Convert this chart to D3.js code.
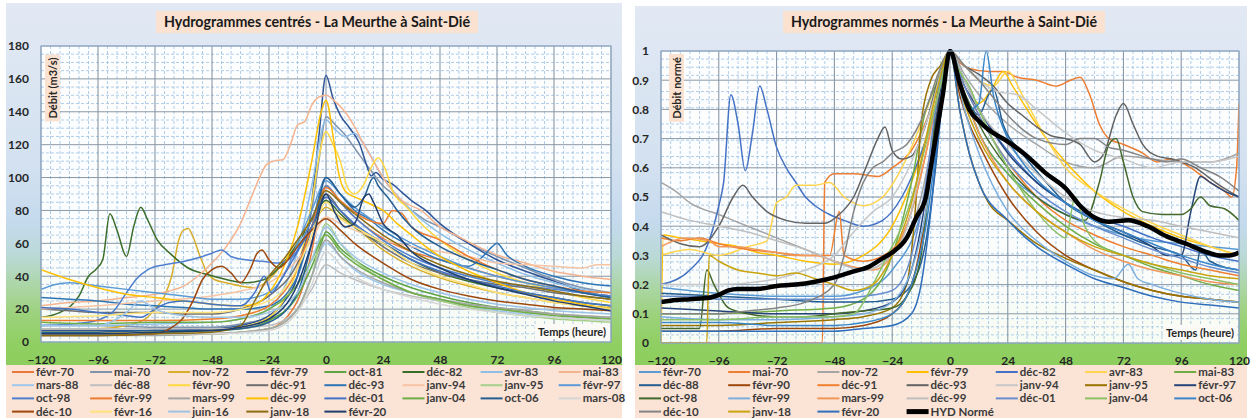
<!DOCTYPE html>
<html><head><meta charset="utf-8">
<script src="https://cdn.jsdelivr.net/npm/d3@7"></script>
<style>body{margin:0;background:#fff}svg{display:block}text{font-family:Lato,"Open Sans",sans-serif}</style>
</head><body>
<svg id="c" width="1254" height="418"></svg>
<script>
// ---------- tick labels ----------
const hourTicks = [-120,-96,-72,-48,-24,0,24,48,72,96,120];
const leftYTicks = [0,20,40,60,80,100,120,140,160,180];
const rightYTicks = [0,0.1,0.2,0.3,0.4,0.5,0.6,0.7,0.8,0.9,1];
const rightYLabels = ["0","0.1","0.2","0.3","0.4","0.5","0.6","0.7","0.8","0.9","1"];

// ---------- left panel : centred hydrographs (m3/s), [hour, value] ----------
const L_fevr70 = [[-120,5],[-96,5],[-72,5],[-48,5],[-36,6],[-24,8],[-12,25],[-6,55],[-3,78],[0,95],[6,85],[12,76],[24,63],[36,55],[48,50],[60,45],[72,40],[84,36],[96,33],[108,30],[120,28]];
const L_mai70 = [[-120,10],[-96,10],[-72,9],[-48,9],[-36,11],[-24,15],[-18,24],[-12,40],[-6,80],[-3,110],[0,137],[4,132],[8,126],[12,118],[18,106],[24,95],[30,88],[36,80],[42,74],[48,70],[60,60],[72,52],[84,45],[96,38],[108,33],[120,30]];
const L_nov72 = [[-120,8],[-96,8],[-84,10],[-76,14],[-72,20],[-68,28],[-65,40],[-62,62],[-60,68],[-58,69],[-56,64],[-53,52],[-50,42],[-47,38],[-42,36],[-36,34],[-30,33],[-24,38],[-18,48],[-12,58],[-6,70],[0,82],[6,76],[12,70],[24,56],[36,46],[48,39],[60,34],[72,30],[84,27],[96,24],[108,22],[120,21]];
const L_fevr79 = [[-120,7],[-96,7],[-72,7],[-48,8],[-36,10],[-24,16],[-18,24],[-12,40],[-6,85],[-3,125],[0,162],[3,148],[6,138],[10,130],[14,121],[17,108],[19,101],[21,103],[24,99],[28,96],[32,91],[36,86],[42,80],[48,72],[60,60],[72,50],[84,43],[96,37],[108,31],[120,27]];
const L_oct81 = [[-120,6],[-96,6],[-72,6],[-48,7],[-36,8],[-24,13],[-12,28],[-6,46],[-2,60],[0,67],[6,57],[12,50],[24,40],[36,33],[48,28],[60,24],[72,21],[84,19],[96,17],[108,15],[120,14]];
const L_dec82 = [[-120,15],[-112,18],[-104,28],[-100,40],[-97,44],[-94,50],[-91,78],[-88,68],[-84,52],[-81,70],[-78,82],[-75,74],[-71,62],[-65,53],[-58,45],[-50,41],[-42,38],[-34,36],[-26,38],[-18,48],[-12,60],[-6,74],[0,86],[6,78],[12,70],[18,64],[24,60],[36,50],[48,42],[60,37],[72,33],[84,30],[96,27],[108,24],[120,22]];
const L_avr83 = [[-120,10],[-96,10],[-72,11],[-48,12],[-36,14],[-24,20],[-18,32],[-12,55],[-6,95],[0,135],[4,129],[8,125],[12,127],[16,120],[24,100],[36,80],[48,66],[60,56],[72,48],[84,41],[96,36],[108,32],[120,30]];
const L_mai83 = [[-120,22],[-108,24],[-96,25],[-84,27],[-72,29],[-66,31],[-60,34],[-54,40],[-48,48],[-42,58],[-36,72],[-32,86],[-28,100],[-25,108],[-22,110],[-18,111],[-15,120],[-12,132],[-9,134],[-6,144],[-3,149],[0,150],[4,146],[8,140],[12,131],[16,120],[20,110],[24,100],[28,92],[32,86],[40,80],[48,70],[56,64],[64,58],[72,53],[84,48],[96,43],[108,40],[120,38]];
const L_mars88 = [[-120,5],[-96,5],[-72,5],[-48,5],[-36,6],[-24,8],[-12,20],[-6,40],[0,60],[6,52],[12,44],[24,35],[36,30],[48,26],[60,22],[72,19],[84,17],[96,15],[108,14],[120,13]];
const L_dec88 = [[-120,8],[-96,8],[-72,8],[-48,8],[-24,10],[-12,20],[-6,32],[0,47],[6,42],[12,38],[24,32],[36,28],[48,25],[60,22],[72,20],[84,18],[96,17],[108,16],[120,15]];
const L_fevr90 = [[-120,6],[-96,6],[-72,6],[-48,7],[-36,9],[-24,15],[-18,25],[-12,45],[-6,85],[-3,112],[0,128],[3,120],[6,110],[9,94],[12,90],[16,96],[19,106],[22,112],[25,105],[28,92],[34,82],[40,72],[48,62],[60,50],[72,42],[84,36],[96,31],[108,27],[120,24]];
const L_dec91 = [[-120,20],[-108,19],[-96,18],[-84,18],[-72,18],[-60,17],[-48,17],[-36,20],[-24,28],[-12,48],[-6,70],[0,90],[6,80],[12,71],[24,58],[36,48],[48,42],[60,38],[72,35],[84,33],[96,30],[108,28],[120,26]];
const L_dec93 = [[-120,27],[-108,26],[-96,25],[-84,23],[-72,22],[-60,21],[-48,20],[-36,20],[-24,22],[-12,40],[-6,70],[0,100],[6,90],[12,80],[18,75],[24,68],[36,58],[48,50],[60,46],[66,52],[70,58],[72,60],[76,53],[84,46],[96,40],[108,36],[120,34]];
const L_janv94 = [[-120,20],[-96,22],[-72,25],[-48,28],[-36,31],[-24,36],[-12,50],[-6,62],[0,76],[6,72],[12,68],[24,62],[36,58],[48,55],[60,52],[72,48],[84,47],[96,46],[108,45],[114,47],[120,47]];
const L_janv95 = [[-120,5],[-96,5],[-72,5],[-48,5],[-24,8],[-12,20],[-6,40],[0,72],[6,60],[12,50],[24,38],[36,30],[48,25],[60,21],[72,18],[84,16],[96,14],[108,13],[120,12]];
const L_fevr97 = [[-120,32],[-114,35],[-108,36],[-96,34],[-84,32],[-72,30],[-60,28],[-48,26],[-36,26],[-24,30],[-18,40],[-12,60],[-6,80],[0,98],[6,90],[12,82],[24,70],[36,60],[48,52],[60,45],[72,40],[84,36],[96,33],[108,30],[120,28]];
const L_oct98 = [[-120,10],[-100,12],[-90,18],[-84,30],[-80,38],[-75,44],[-68,47],[-60,49],[-52,52],[-48,54],[-44,56],[-40,52],[-34,50],[-26,49],[-20,48],[-14,52],[-8,68],[-4,82],[0,95],[6,85],[12,76],[24,62],[36,52],[48,45],[60,40],[72,36],[84,34],[96,32],[108,30],[120,28]];
const L_fevr99 = [[-120,13],[-96,13],[-72,13],[-48,14],[-36,16],[-24,22],[-12,45],[-6,70],[0,94],[6,86],[12,79],[18,74],[24,72],[28,80],[32,78],[36,70],[48,62],[60,52],[72,44],[84,38],[96,34],[108,31],[120,30]];
const L_mars99 = [[-120,4],[-96,4],[-72,4],[-48,5],[-24,8],[-12,20],[-6,40],[0,62],[6,52],[12,45],[24,36],[36,30],[48,26],[60,23],[72,21],[84,19],[96,17],[108,16],[120,15]];
const L_dec99 = [[-120,44],[-108,38],[-96,33],[-84,29],[-72,27],[-60,25],[-48,23],[-36,22],[-30,23],[-24,30],[-18,45],[-12,70],[-6,110],[-2,140],[0,147],[3,125],[5,105],[8,92],[14,87],[20,83],[24,80],[30,72],[36,65],[42,58],[48,52],[60,43],[72,36],[84,30],[96,26],[108,23],[120,20]];
const L_dec01 = [[-120,21],[-108,20],[-96,18],[-84,16],[-78,15],[-72,20],[-66,24],[-60,25],[-54,24],[-48,23],[-36,22],[-30,30],[-26,40],[-23,30],[-18,40],[-12,55],[-6,70],[0,88],[6,80],[12,72],[24,60],[36,50],[48,43],[60,38],[72,34],[84,30],[96,27],[108,24],[120,22]];
const L_janv04 = [[-120,12],[-96,11],[-72,12],[-48,12],[-36,14],[-24,20],[-12,35],[-6,50],[0,65],[6,55],[12,48],[24,38],[36,30],[48,26],[60,22],[72,20],[84,18],[96,16],[108,15],[120,14]];
const L_oct06 = [[-120,6],[-96,6],[-72,7],[-48,7],[-36,8],[-24,12],[-12,30],[-6,60],[0,100],[6,90],[12,82],[16,88],[20,100],[22,95],[26,88],[30,80],[36,70],[48,58],[60,50],[72,44],[84,38],[96,34],[108,30],[120,27]];
const L_mars08 = [[-120,5],[-96,5],[-72,5],[-48,5],[-24,7],[-12,18],[-6,35],[0,55],[6,47],[12,40],[24,32],[36,27],[48,23],[60,20],[72,18],[84,16],[96,15],[108,14],[120,13]];
const L_dec10 = [[-120,4],[-96,4],[-72,5],[-66,8],[-60,15],[-56,25],[-52,38],[-48,44],[-44,46],[-40,42],[-36,36],[-32,44],[-29,54],[-27,56],[-24,50],[-20,45],[-16,50],[-12,58],[-6,68],[0,75],[6,68],[12,60],[24,48],[36,38],[48,32],[60,28],[72,25],[84,23],[96,21],[108,20],[120,19]];
const L_fevr16 = [[-120,15],[-96,16],[-72,18],[-48,18],[-24,25],[-12,45],[-6,65],[0,85],[6,75],[12,70],[24,60],[36,48],[48,40],[60,35],[72,30],[84,27],[96,24],[108,22],[120,20]];
const L_juin16 = [[-120,10],[-96,10],[-88,14],[-84,18],[-78,25],[-72,20],[-60,16],[-48,15],[-36,15],[-24,18],[-12,30],[-6,50],[0,70],[6,60],[12,52],[24,42],[36,35],[48,30],[60,26],[72,23],[84,21],[96,19],[108,18],[120,17]];
const L_janv18 = [[-120,4],[-96,4],[-72,5],[-48,6],[-36,10],[-30,25],[-24,40],[-18,50],[-12,62],[-6,75],[0,92],[6,85],[12,78],[24,65],[36,55],[48,47],[60,41],[72,37],[84,34],[96,31],[108,28],[120,26]];
const L_fevr20 = [[-120,5],[-96,5],[-72,6],[-48,7],[-36,9],[-24,14],[-12,35],[-6,60],[0,90],[4,78],[8,70],[12,72],[16,88],[18,90],[20,85],[24,72],[30,65],[36,55],[48,45],[60,38],[72,33],[84,29],[96,25],[108,22],[120,19]];

const leftNames = ["févr-70","mai-70","nov-72","févr-79","oct-81","déc-82","avr-83","mai-83","mars-88","déc-88","févr-90","déc-91","déc-93","janv-94","janv-95","févr-97","oct-98","févr-99","mars-99","déc-99","déc-01","janv-04","oct-06","mars-08","déc-10","févr-16","juin-16","janv-18","févr-20"];
const leftSeries = [L_fevr70,L_mai70,L_nov72,L_fevr79,L_oct81,L_dec82,L_avr83,L_mai83,L_mars88,L_dec88,L_fevr90,L_dec91,L_dec93,L_janv94,L_janv95,L_fevr97,L_oct98,L_fevr99,L_mars99,L_dec99,L_dec01,L_janv04,L_oct06,L_mars08,L_dec10,L_fevr16,L_juin16,L_janv18,L_fevr20];
const leftColors = ["#E8793A","#7F93AE","#D9AE2A","#2F5597","#5EA344","#3B6E2A","#8EBEE6","#F4B490","#9DC8EB","#BFBFBF","#FFD93F","#6F6F6F","#2E75B6","#F7C4A4","#A6D08A","#5B9BD5","#4F7FCF","#ED7D31","#A5A5A5","#FFC000","#4472C4","#70AD47","#255E91","#D6D6D6","#9E480E","#FFE27A","#9DC3E6","#8C6D12","#1F3D6E"];

// ---------- right panel : normalised hydrographs, [hour, value] ----------
const R_fevr70 = [[-120,0.19],[-96,0.17],[-72,0.16],[-48,0.16],[-36,0.18],[-24,0.25],[-12,0.45],[-6,0.7],[0,1],[6,0.85],[12,0.72],[24,0.58],[36,0.5],[48,0.44],[60,0.4],[72,0.37],[84,0.35],[96,0.34],[108,0.33],[120,0.32]];
const R_mai70 = [[-120,0],[-53,0],[-52,0.55],[-48,0.58],[-40,0.58],[-30,0.57],[-24,0.6],[-16,0.66],[-8,0.8],[0,1],[4,0.96],[8,0.94],[16,0.93],[22,0.93],[28,0.91],[36,0.9],[44,0.88],[50,0.9],[54,0.91],[58,0.85],[62,0.75],[66,0.7],[72,0.68],[80,0.65],[86,0.62],[92,0.63],[100,0.6],[108,0.55],[114,0.52],[117,0.5],[119,0.6],[120,0.82]];
const R_nov72 = [[-120,0.55],[-114,0.52],[-108,0.48],[-96,0.44],[-84,0.4],[-72,0.36],[-60,0.32],[-48,0.28],[-36,0.25],[-24,0.3],[-12,0.5],[-6,0.75],[0,1],[6,0.92],[12,0.85],[24,0.75],[36,0.68],[48,0.62],[60,0.6],[72,0.64],[84,0.63],[96,0.62],[108,0.62],[120,0.65]];
const R_fevr79 = [[-120,0],[-119,0.37],[-112,0.36],[-104,0.35],[-96,0.34],[-88,0.33],[-80,0.31],[-72,0.3],[-60,0.28],[-48,0.27],[-36,0.3],[-24,0.4],[-16,0.55],[-10,0.7],[-5,0.85],[0,1],[6,0.9],[12,0.82],[18,0.88],[22,0.93],[26,0.88],[32,0.8],[40,0.7],[48,0.62],[60,0.52],[72,0.45],[84,0.4],[96,0.36],[108,0.33],[120,0.3]];
const R_dec82 = [[-120,0.2],[-108,0.25],[-100,0.35],[-96,0.47],[-94,0.55],[-91,0.85],[-88,0.75],[-85,0.59],[-82,0.72],[-79,0.88],[-76,0.8],[-72,0.67],[-68,0.6],[-64,0.55],[-60,0.5],[-56,0.47],[-50,0.44],[-44,0.42],[-36,0.4],[-28,0.42],[-20,0.5],[-12,0.65],[-6,0.8],[0,1],[6,0.9],[12,0.8],[20,0.7],[28,0.62],[36,0.55],[48,0.48],[60,0.43],[72,0.4],[84,0.36],[96,0.33],[108,0.3],[120,0.28]];
const R_avr83 = [[-120,0.3],[-108,0.32],[-96,0.3],[-84,0.33],[-76,0.35],[-72,0.48],[-68,0.5],[-64,0.54],[-56,0.54],[-50,0.55],[-44,0.5],[-40,0.48],[-36,0.47],[-28,0.5],[-20,0.6],[-12,0.75],[-6,0.88],[0,1],[6,0.95],[12,0.9],[18,0.88],[24,0.93],[30,0.85],[40,0.7],[48,0.6],[60,0.52],[72,0.46],[84,0.41],[96,0.37],[108,0.33],[120,0.3]];
const R_mai83 = [[-120,0.1],[-96,0.1],[-72,0.11],[-48,0.12],[-36,0.15],[-24,0.3],[-16,0.55],[-10,0.8],[-6,0.88],[-3,0.95],[0,1],[6,0.85],[12,0.72],[24,0.58],[36,0.48],[48,0.4],[60,0.34],[72,0.3],[84,0.26],[96,0.23],[108,0.2],[120,0.18]];
const R_dec88 = [[-120,0.17],[-96,0.16],[-72,0.15],[-48,0.14],[-36,0.14],[-24,0.15],[-16,0.2],[-10,0.35],[-6,0.6],[-3,0.85],[0,1],[4,0.9],[8,0.82],[12,0.78],[16,0.85],[18,0.87],[22,0.75],[30,0.65],[40,0.55],[48,0.48],[60,0.42],[72,0.37],[84,0.33],[96,0.3],[102,0.25],[104,0.32],[108,0.28],[120,0.25]];
const R_fevr90 = [[-120,0.04],[-96,0.04],[-72,0.05],[-48,0.05],[-36,0.06],[-24,0.1],[-16,0.2],[-10,0.45],[-6,0.75],[0,1],[4,0.85],[8,0.75],[12,0.68],[24,0.5],[36,0.38],[48,0.3],[60,0.25],[72,0.21],[84,0.18],[96,0.16],[108,0.15],[120,0.14]];
const R_dec91 = [[-120,0.36],[-112,0.35],[-104,0.36],[-96,0.34],[-84,0.32],[-72,0.31],[-60,0.3],[-50,0.3],[-46,0.45],[-44,0.3],[-36,0.28],[-24,0.32],[-16,0.45],[-10,0.65],[-5,0.85],[0,1],[6,0.88],[12,0.78],[24,0.62],[36,0.5],[48,0.42],[60,0.37],[72,0.33],[84,0.3],[96,0.27],[108,0.25],[120,0.23]];
const R_dec93 = [[-120,0.37],[-112,0.34],[-104,0.33],[-96,0.4],[-90,0.5],[-86,0.54],[-82,0.5],[-76,0.45],[-68,0.42],[-60,0.41],[-52,0.41],[-46,0.44],[-40,0.5],[-34,0.62],[-30,0.7],[-27,0.74],[-24,0.66],[-20,0.63],[-16,0.64],[-10,0.75],[-5,0.9],[0,1],[6,0.95],[12,0.92],[18,0.88],[24,0.82],[30,0.78],[36,0.74],[42,0.71],[48,0.7],[54,0.68],[60,0.62],[64,0.65],[69,0.78],[72,0.82],[76,0.75],[80,0.68],[86,0.64],[92,0.63],[96,0.62],[102,0.6],[107,0.57],[112,0.54],[120,0.5]];
const R_janv94 = [[-120,0.2],[-96,0.2],[-72,0.22],[-60,0.25],[-48,0.3],[-40,0.38],[-32,0.45],[-24,0.5],[-16,0.62],[-8,0.8],[0,1],[6,0.95],[12,0.9],[20,0.86],[28,0.85],[36,0.8],[48,0.72],[60,0.66],[72,0.63],[84,0.6],[96,0.62],[108,0.62],[120,0.64]];
const R_janv95 = [[-120,0.06],[-96,0.06],[-72,0.07],[-48,0.08],[-36,0.09],[-24,0.12],[-18,0.2],[-14,0.5],[-12,0.75],[-8,0.9],[-4,0.95],[0,1],[4,0.8],[8,0.65],[12,0.55],[16,0.48],[24,0.42],[36,0.34],[48,0.29],[60,0.25],[72,0.21],[84,0.18],[96,0.16],[108,0.15],[120,0.14]];
const R_fevr97 = [[-120,0.12],[-96,0.11],[-72,0.1],[-48,0.1],[-36,0.11],[-24,0.14],[-16,0.25],[-10,0.5],[-6,0.75],[0,1],[6,0.88],[12,0.8],[24,0.65],[36,0.55],[48,0.48],[60,0.42],[72,0.38],[84,0.33],[90,0.3],[96,0.3],[100,0.45],[104,0.57],[108,0.55],[114,0.52],[120,0.5]];
const R_oct98 = [[-120,0.05],[-104,0.05],[-101,0.25],[-98,0.2],[-92,0.12],[-84,0.1],[-72,0.09],[-60,0.09],[-48,0.1],[-36,0.11],[-24,0.12],[-18,0.16],[-12,0.3],[-8,0.6],[-6,0.8],[-3,0.95],[0,1],[4,0.9],[8,0.82],[12,0.75],[24,0.6],[36,0.5],[48,0.44],[56,0.42],[62,0.55],[66,0.68],[69,0.7],[72,0.62],[76,0.5],[80,0.45],[88,0.44],[96,0.44],[100,0.46],[104,0.5],[108,0.47],[114,0.46],[120,0.42]];
const R_fevr99 = [[-120,0.09],[-96,0.08],[-72,0.08],[-48,0.09],[-36,0.1],[-24,0.14],[-16,0.25],[-10,0.45],[-6,0.7],[0,1],[6,0.8],[12,0.65],[24,0.45],[36,0.35],[48,0.28],[60,0.23],[68,0.22],[74,0.27],[78,0.22],[84,0.2],[96,0.17],[108,0.15],[120,0.14]];
const R_mars99 = [[-120,0.33],[-110,0.36],[-100,0.35],[-96,0.33],[-88,0.33],[-80,0.32],[-72,0.31],[-64,0.3],[-56,0.3],[-48,0.28],[-40,0.26],[-32,0.25],[-24,0.3],[-16,0.45],[-10,0.65],[-5,0.85],[0,1],[6,0.85],[12,0.72],[24,0.55],[36,0.45],[48,0.38],[60,0.32],[72,0.28],[84,0.25],[96,0.23],[108,0.21],[120,0.2]];
const R_dec99 = [[-120,0.45],[-108,0.42],[-96,0.4],[-84,0.38],[-72,0.35],[-60,0.32],[-48,0.28],[-36,0.25],[-24,0.3],[-16,0.45],[-10,0.7],[-5,0.88],[0,1],[6,0.9],[12,0.8],[24,0.68],[36,0.58],[48,0.5],[60,0.45],[72,0.43],[84,0.42],[96,0.4],[108,0.38],[120,0.36]];
const R_dec01 = [[-120,0.16],[-108,0.16],[-96,0.15],[-84,0.15],[-72,0.15],[-60,0.15],[-48,0.15],[-36,0.16],[-24,0.18],[-16,0.3],[-10,0.55],[-6,0.8],[0,1],[6,0.88],[12,0.78],[24,0.62],[36,0.52],[48,0.45],[60,0.4],[72,0.36],[84,0.32],[96,0.29],[108,0.26],[120,0.24]];
const R_janv04 = [[-120,0.08],[-96,0.08],[-72,0.09],[-48,0.09],[-40,0.1],[-32,0.2],[-26,0.3],[-20,0.4],[-14,0.55],[-8,0.75],[-4,0.88],[0,1],[4,0.93],[8,0.88],[12,0.8],[24,0.6],[36,0.45],[44,0.38],[48,0.36],[52,0.5],[56,0.4],[60,0.35],[72,0.3],[84,0.27],[96,0.24],[108,0.22],[120,0.2]];
const R_oct06 = [[-120,0.07],[-96,0.07],[-72,0.06],[-48,0.06],[-36,0.07],[-24,0.1],[-16,0.2],[-10,0.4],[-6,0.65],[-3,0.85],[0,1],[4,0.88],[8,0.8],[12,0.82],[15,1.0],[18,0.85],[24,0.7],[30,0.62],[36,0.56],[48,0.48],[60,0.42],[72,0.38],[84,0.34],[96,0.3],[108,0.27],[120,0.25]];
const R_dec10 = [[-120,0.1],[-108,0.1],[-96,0.1],[-84,0.11],[-72,0.12],[-60,0.14],[-48,0.2],[-44,0.3],[-40,0.45],[-36,0.55],[-32,0.6],[-28,0.62],[-24,0.65],[-18,0.68],[-10,0.8],[-5,0.92],[0,1],[6,0.95],[12,0.9],[18,0.84],[24,0.78],[36,0.7],[48,0.68],[54,0.7],[60,0.7],[66,0.67],[72,0.66],[84,0.63],[90,0.62],[96,0.63],[104,0.6],[112,0.57],[120,0.52]];
const R_janv18 = [[-120,0],[-101,0],[-100,0.3],[-96,0.28],[-88,0.25],[-80,0.24],[-72,0.23],[-64,0.24],[-56,0.22],[-48,0.2],[-40,0.18],[-32,0.2],[-24,0.3],[-16,0.48],[-10,0.7],[-5,0.88],[0,1],[6,0.82],[12,0.7],[24,0.55],[36,0.45],[48,0.38],[60,0.33],[72,0.3],[84,0.27],[96,0.25],[108,0.23],[120,0.22]];
const R_fevr20 = [[-120,0.04],[-96,0.04],[-72,0.04],[-48,0.04],[-36,0.05],[-24,0.06],[-16,0.1],[-12,0.2],[-8,0.45],[-5,0.7],[-2,0.9],[0,1],[4,0.8],[8,0.65],[12,0.55],[24,0.42],[36,0.33],[48,0.27],[60,0.22],[72,0.19],[84,0.16],[96,0.14],[108,0.13],[120,0.12]];
const R_hyd = [[-120,0.14],[-116,0.145],[-108,0.15],[-100,0.155],[-96,0.165],[-92,0.18],[-88,0.185],[-80,0.185],[-72,0.195],[-64,0.2],[-56,0.21],[-48,0.225],[-44,0.235],[-40,0.245],[-34,0.26],[-28,0.29],[-24,0.31],[-18,0.36],[-14,0.43],[-10,0.5],[-8,0.6],[-6,0.7],[-3,0.85],[0,1],[4,0.89],[8,0.8],[12,0.76],[16,0.73],[24,0.69],[32,0.64],[40,0.58],[48,0.53],[54,0.47],[60,0.43],[66,0.415],[74,0.42],[82,0.4],[90,0.365],[98,0.34],[107,0.31],[112,0.3],[116,0.3],[120,0.31]];

const rightNames = ["févr-70","mai-70","nov-72","févr-79","déc-82","avr-83","mai-83","déc-88","févr-90","déc-91","déc-93","janv-94","janv-95","févr-97","oct-98","févr-99","mars-99","déc-99","déc-01","janv-04","oct-06","déc-10","janv-18","févr-20","HYD Normé"];
const rightSeries = [R_fevr70,R_mai70,R_nov72,R_fevr79,R_dec82,R_avr83,R_mai83,R_dec88,R_fevr90,R_dec91,R_dec93,R_janv94,R_janv95,R_fevr97,R_oct98,R_fevr99,R_mars99,R_dec99,R_dec01,R_janv04,R_oct06,R_dec10,R_janv18,R_fevr20,R_hyd];
const rightColors = ["#5B9BD5","#ED7D31","#A5A5A5","#FFC000","#4472C4","#FFD54F","#70AD47","#255E91","#9E480E","#F08030","#636363","#C8C8C8","#997300","#264478","#43682B","#7CAFDD","#F1975A","#BFBFBF","#698ED0","#8CC168","#3A86C8","#848484","#C9A40F","#2F6EBA","#000000"];

// ---------- drawing ----------
const svg = d3.select("#c");
const defs = svg.append("defs");
const grad = defs.append("linearGradient").attr("id","bg").attr("x1",0).attr("y1",0).attr("x2",0).attr("y2",1);
[[0,"#e2e9f4"],[0.45,"#d3e1f0"],[0.6,"#c5daee"],[0.7,"#bad9d6"],[0.78,"#acd6a7"],[0.86,"#9cd27c"],[0.94,"#90cf63"],[1,"#8dce5e"]]
  .forEach(s=>grad.append("stop").attr("offset",s[0]).attr("stop-color",s[1]));

function boxedText(parent, attrs, txt, fill){
  const grp = parent.append("g");
  const r = grp.append("rect").attr("fill",fill);
  const t = grp.append("text");
  Object.entries(attrs).forEach(([k,v])=>t.attr(k,v));
  t.text(txt);
  const b = t.node().getBBox();
  r.attr("x",b.x-3).attr("y",b.y-1).attr("width",b.width+6).attr("height",b.height+2);
  return grp;
}

function drawPanel(o){
  const g = svg.append("g");
  g.append("rect").attr("x",o.bx).attr("y",o.by).attr("width",o.bw).attr("height",365-o.by).attr("fill","url(#bg)");
  g.append("rect").attr("x",o.bx).attr("y",365).attr("width",o.bw).attr("height",418-365).attr("fill","#fbe3d6");

  const x = d3.scaleLinear().domain([-120,120]).range([o.px0,o.px1]);
  const y = d3.scaleLinear().domain([0,o.ymax]).range([o.py1,o.py0]);
  const cid = "clip"+o.id;
  defs.append("clipPath").attr("id",cid).append("rect").attr("x",o.px0).attr("y",o.py0-2).attr("width",o.px1-o.px0).attr("height",o.py1-o.py0+2);

  g.append("rect").attr("x",o.px0).attr("y",o.py0).attr("width",o.px1-o.px0).attr("height",o.py1-o.py0).attr("fill","#ffffff").attr("opacity",0.93);

  // minor grid
  const minorX = d3.range(-120,120.001,4).filter(v=>Math.abs(v%24)>0.001);
  const minorY = d3.range(0,o.ymax+1e-9,o.ymax/36).filter((v,i)=>i%4!==0);
  g.append("g").selectAll("line").data(minorX).join("line")
    .attr("x1",d=>x(d)).attr("x2",d=>x(d)).attr("y1",o.py0).attr("y2",o.py1)
    .attr("stroke","#9cc2e5").attr("stroke-width",0.8).attr("stroke-dasharray","3,2");
  g.append("g").selectAll("line").data(minorY).join("line")
    .attr("y1",d=>y(d)).attr("y2",d=>y(d)).attr("x1",o.px0).attr("x2",o.px1)
    .attr("stroke","#9cc2e5").attr("stroke-width",0.8).attr("stroke-dasharray","3,2");
  // major grid
  g.append("g").selectAll("line").data(hourTicks).join("line")
    .attr("x1",d=>x(d)).attr("x2",d=>x(d)).attr("y1",o.py0).attr("y2",o.py1)
    .attr("stroke","#7f8fa0").attr("stroke-width",1);
  g.append("g").selectAll("line").data(o.yTicks).join("line")
    .attr("y1",d=>y(d)).attr("y2",d=>y(d)).attr("x1",o.px0).attr("x2",o.px1)
    .attr("stroke","#8a98a6").attr("stroke-width",1);

  // series
  const line = d3.line().x(d=>x(d[0])).y(d=>y(d[1])).curve(d3.curveMonotoneX);
  const lg = g.append("g").attr("clip-path","url(#"+cid+")");
  o.series.forEach((s,i)=>{
    const bold = o.names[i]==="HYD Normé";
    lg.append("path").attr("d",line(s)).attr("fill","none")
      .attr("stroke",o.colors[i]).attr("stroke-width",bold?4.5:1.5)
      .attr("stroke-linejoin","round");
  });
  g.append("rect").attr("x",o.px0).attr("y",o.py0).attr("width",o.px1-o.px0).attr("height",o.py1-o.py0)
    .attr("fill","none").attr("stroke","#8faccb").attr("stroke-width",1);

  // axes (labels only)
  const ax = g.append("g").attr("transform",`translate(0,${o.py1+10})`)
    .call(d3.axisBottom(x).tickValues(hourTicks).tickSize(0).tickFormat(d3.format("d")));
  ax.select(".domain").remove();
  ax.selectAll("text").attr("font-size",12).attr("font-weight","bold").attr("fill","#262626").attr("font-family","Lato");
  const ay = g.append("g").attr("transform",`translate(${o.px0-9},0)`)
    .call(d3.axisLeft(y).tickValues(o.yTicks).tickSize(0).tickFormat((d,i)=>o.yLabels[i]));
  ay.select(".domain").remove();
  ay.selectAll("text").attr("font-size",12).attr("font-weight","bold").attr("fill","#262626").attr("font-family","Lato");

  // title
  g.append("rect").attr("x",o.tx-161).attr("y",11).attr("width",322).attr("height",22).attr("fill","#fbe1cf");
  g.append("text").attr("x",o.tx).attr("y",27).attr("text-anchor","middle").attr("font-size",15).attr("font-weight","bold")
    .attr("fill","#1a1a1a").attr("textLength",306).attr("lengthAdjust","spacingAndGlyphs").text(o.title);

  // y title (rotated)
  const yt = g.append("g").attr("transform",`translate(${o.ytx},${o.yty}) rotate(-90)`);
  boxedText(yt,{x:0,y:4,"text-anchor":"middle","font-size":11,"font-weight":"bold",fill:"#262626"},o.ytitle,"#fbe1cf");

  // x title
  boxedText(g,{x:o.px1-5,y:o.py1-6,"text-anchor":"end","font-size":11,"font-weight":"bold",fill:"#262626"},"Temps (heure)","#fbfaf7");

  // legend
  const lgd = g.append("g");
  o.names.forEach((n,i)=>{
    const col = i%o.cols, row = Math.floor(i/o.cols);
    const tx = o.lx0 + col*o.lstep, ty = 372 + row*13.2;
    const bold = n==="HYD Normé";
    lgd.append("line").attr("x1",tx-24).attr("x2",tx-2).attr("y1",ty).attr("y2",ty)
      .attr("stroke",o.colors[i]).attr("stroke-width",bold?5:2);
    lgd.append("text").attr("x",tx).attr("y",ty+4).attr("font-size",11.5).attr("font-weight","bold").attr("fill","#3a3a3a").text(n);
  });
}

drawPanel({id:"L",bx:6,by:3,bw:616,px0:41,px1:611,py0:46,py1:342,ymax:180,yTicks:leftYTicks,yLabels:leftYTicks.map(String),
  series:leftSeries,names:leftNames,colors:leftColors,title:"Hydrogrammes centrés - La Meurthe à Saint-Dié",tx:317,
  ytitle:"Débit (m3/s)",ytx:53,yty:88,cols:8,lx0:36,lstep:78.1});
drawPanel({id:"R",bx:635,by:6,bw:612,px0:661,px1:1239,py0:51,py1:343,ymax:1,yTicks:rightYTicks,yLabels:rightYLabels,
  series:rightSeries,names:rightNames,colors:rightColors,title:"Hydrogrammes normés - La Meurthe à Saint-Dié",tx:944,
  ytitle:"Débit normé",ytx:677,yty:88,cols:7,lx0:663,lstep:89.2});
</script>
</body></html>
